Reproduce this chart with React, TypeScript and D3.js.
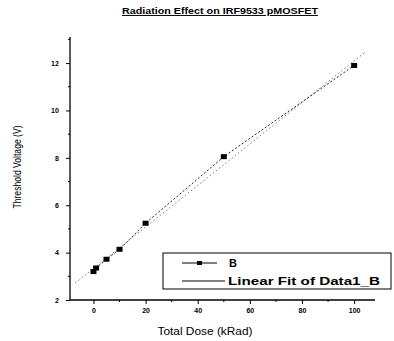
import React, { useRef, useEffect } from 'react';
import * as d3 from 'd3';

// Total dose (kRad) vs threshold voltage magnitude (V)
const doses = [0, 1, 5, 10, 20, 50, 100];
const vth = [3.2, 3.35, 3.72, 4.14, 5.24, 8.05, 11.9];
// Linear fit of Data1_B
const fitIntercept = 3.33;
const fitSlope = 0.0876;
const fitRange = [-7, 104];
const xTicks = [0, 20, 40, 60, 80, 100];
const yTicks = [2, 4, 6, 8, 10, 12];

const App: React.FC = () => {
  const svgRef = useRef<SVGSVGElement | null>(null);

  useEffect(() => {
    const svg = d3.select(svgRef.current);
    svg.selectAll('*').remove();
    const width = 394;
    const height = 341;
    const font = 'Liberation Sans, Arial, sans-serif';

    svg.attr('width', width).attr('height', height).style('background', '#fff');

    const x = d3.scaleLinear().domain([-9, 108]).range([70, 375]);
    const y = d3.scaleLinear().domain([2, 13.1]).range([300, 37]);

    // axes
    const xAxis = svg.append('g').attr('transform', `translate(0,${y(2)})`);
    xAxis.call(d3.axisBottom(x).tickValues(xTicks).tickSize(4).tickFormat(d3.format('d')))
      .call(g => g.select('.domain').attr('stroke-width', 1.3).attr('d', `M${x(-9)},0H${x(108)}`));
    xAxis.selectAll('text').attr('font-size', 7).attr('font-weight', 'bold').attr('font-family', font).attr('dy', '0.9em');
    xAxis.append('g').selectAll('line').data(d3.range(-0, 110, 10).filter(v => v % 20 !== 0))
      .enter().append('line').attr('x1', d => x(d)).attr('x2', d => x(d)).attr('y1', 0).attr('y2', 2).attr('stroke', '#000');

    const yAxis = svg.append('g').attr('transform', `translate(${x(-9)},0)`);
    yAxis.call(d3.axisLeft(y).tickValues(yTicks).tickSize(4).tickFormat(d3.format('d')))
      .call(g => g.select('.domain').attr('stroke-width', 1.3).attr('d', `M0,${y(2)}V${y(13.1)}`));
    yAxis.selectAll('text').attr('font-size', 7).attr('font-weight', 'bold').attr('font-family', font).attr('dx', '-0.6em');
    yAxis.append('g').selectAll('line').data(d3.range(3, 14, 2))
      .enter().append('line').attr('y1', d => y(d)).attr('y2', d => y(d)).attr('x1', 0).attr('x2', -2).attr('stroke', '#000');

    // linear fit
    svg.append('line')
      .attr('x1', x(fitRange[0])).attr('y1', y(fitIntercept + fitSlope * fitRange[0]))
      .attr('x2', x(fitRange[1])).attr('y2', y(fitIntercept + fitSlope * fitRange[1]))
      .attr('stroke', '#777').attr('stroke-width', 1).attr('stroke-dasharray', '1.5,2.5');

    // data line + squares
    const pts = doses.map((d, i) => [d, vth[i]] as [number, number]);
    svg.append('path').datum(pts)
      .attr('d', d3.line().x(d => x(d[0])).y(d => y(d[1])))
      .attr('fill', 'none').attr('stroke', '#222').attr('stroke-width', 1).attr('stroke-dasharray', '2,2');
    svg.append('g').selectAll('rect').data(pts).enter().append('rect')
      .attr('x', d => x(d[0]) - 3).attr('y', d => y(d[1]) - 2.5)
      .attr('width', 6).attr('height', 5).attr('fill', '#000');

    // legend
    const lg = svg.append('g');
    lg.append('rect').attr('x', 163).attr('y', 253).attr('width', 228).attr('height', 36)
      .attr('fill', '#fff').attr('stroke', '#000').attr('stroke-width', 1);
    lg.append('line').attr('x1', 182).attr('x2', 217).attr('y1', 263).attr('y2', 263).attr('stroke', '#000');
    lg.append('rect').attr('x', 197).attr('y', 261).attr('width', 5).attr('height', 4).attr('fill', '#000');
    lg.append('text').attr('x', 229).attr('y', 267).attr('font-size', 11).attr('font-weight', 'bold')
      .attr('font-family', font).text('B');
    lg.append('line').attr('x1', 182).attr('x2', 225).attr('y1', 281).attr('y2', 281).attr('stroke', '#000');
    lg.append('text').attr('x', 228).attr('y', 285).attr('font-size', 11).attr('font-weight', 'bold')
      .attr('font-family', font).attr('textLength', 152).attr('lengthAdjust', 'spacingAndGlyphs')
      .text('Linear Fit of Data1_B');

    // title
    svg.append('text').attr('x', 220).attr('y', 14).attr('text-anchor', 'middle')
      .attr('font-size', 9.5).attr('font-weight', 'bold').attr('font-family', font)
      .attr('text-decoration', 'underline').attr('textLength', 196).attr('lengthAdjust', 'spacingAndGlyphs')
      .text('Radiation Effect on IRF9533 pMOSFET');

    // axis labels
    svg.append('text').attr('x', 205).attr('y', 335).attr('text-anchor', 'middle')
      .attr('font-size', 10.5).attr('font-family', font).attr('textLength', 95).attr('lengthAdjust', 'spacingAndGlyphs')
      .text('Total Dose (kRad)');
    svg.append('text').attr('transform', 'translate(21,167) rotate(-90)').attr('text-anchor', 'middle')
      .attr('font-size', 10).attr('font-family', font).attr('textLength', 83).attr('lengthAdjust', 'spacingAndGlyphs')
      .text('Threshold Voltage (V)');
  }, []);

  return <svg ref={svgRef} style={{ position: 'absolute', left: 0, top: 0 }}></svg>;
};

export default App;
